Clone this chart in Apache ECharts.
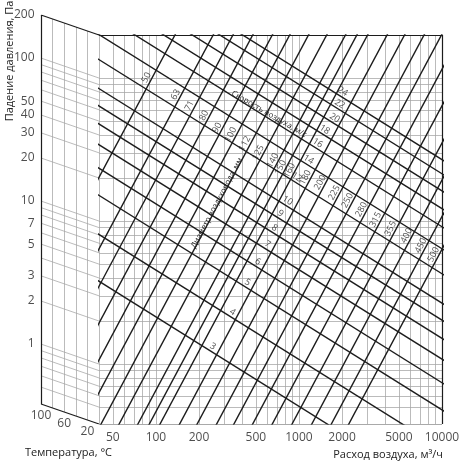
<!DOCTYPE html>
<html><head><meta charset="utf-8">
<script src="https://cdn.jsdelivr.net/npm/echarts@6/dist/echarts.min.js"></script>
<style>html,body{margin:0;padding:0;background:#fff}#c{width:465px;height:466px}</style>
</head><body><div id="c"></div>
<script>
// ---- data ----
const flowTicks = [50, 100, 200, 500, 1000, 2000, 5000, 10000];
const pressureTicks = [200, 100, 50, 40, 30, 20, 10, 7, 5, 3, 2, 1];
const temperatureTicks = [100, 60, 20];
const temperatureGrid = [80, 60, 40, 20];
const flowGrid = [40,50,60,70,80,90,100,200,300,400,500,600,700,800,900,1000,2000,3000,4000,5000,6000,7000,8000,9000];
const pressureGrid = [0.5,0.6,0.7,0.8,0.9,1,2,3,4,5,6,7,8,9,10,20,30,40,50,60,70,80,90,100];

// duct diameter lines (mm): flow (m3/h) where each line is at 0.3 Pa and at 250 Pa
const diameters = [50,63,71,80,90,100,112,125,140,150,160,180,200,225,250,280,315,355,400,450,500];
const diameterFlowAtLow = [4.23,7.83,10.8,14.8,20.3,26.9,36.4,48.7,65.9,79.2,94.1,129,171,234,309,418,573,788,1083,1483,1964];
const diameterFlowAtHigh = [153,283,389,535,733,970,1313,1760,2380,2860,3398,4651,6161,8434,11170,15110,20690,28460,39120,53560,70940];
const diameterLabelDrop = [96.9,73.7,61.7,52.6,43.3,38.7,33.5,29.0,25.5,22.8,21.7,19.4,17.9,15.2,13.4,11.6,9.85,8.52,7.61,6.48,5.61];

// air velocity lines (m/s): pressure drop (Pa) at 30 m3/h and at 12000 m3/h
const velocities = [3,4,5,6,7,8,9,10,12,14,16,18,20,22,24];
const velocityDropAtLow = [4.54,9.63,18.1,28.0,40.9,57.1,76.3,101,161,241,344,459,612,807,1016];
const velocityDropAtHigh = [0.107,0.228,0.427,0.661,0.967,1.35,1.81,2.38,3.82,5.71,8.14,10.9,14.5,19.1,24.0];
const velocityLabelFlow = [239,329,419,493,578,648,713,798,923,1119,1294,1448,1701,1844,1935];

// ---- chart ----
const FMIN = 40, FMAX = 10000, PMAX = 200, PMIN = 0.381;
const QLOW = 30, QHIGH = 12000, DLOW = 0.3, DHIGH = 250;
const SHIFT = 1.38;            // left (100 °C) scale vs right edge of temperature panel
const PMIN2 = PMIN / SHIFT;
const GRIDC = '#a4a4a4', INK = '#1c1c1c', TXT = '#222';
const FONT = '"Open Sans","DejaVu Sans",sans-serif';
const lg = Math.log10;
const seg = (a, b) => ({coords: [a, b]});
const series = [];
const linesBase = (xi, style, data, z) => ({type: 'lines', coordinateSystem: 'cartesian2d', xAxisIndex: xi, yAxisIndex: xi,
  silent: true, z: z || 1, lineStyle: Object.assign({opacity: 1}, style), data});

// main grid
series.push(linesBase(0, {color: GRIDC, width: 0.75},
  flowGrid.map(q => seg([q, PMIN], [q, PMAX])).concat(pressureGrid.map(p => seg([FMIN, p], [FMAX, p])))));
// main frame
series.push(linesBase(0, {color: INK, width: 1.2}, [seg([FMIN, PMAX], [FMAX, PMAX]), seg([FMAX, PMAX], [FMAX, PMIN])], 5));
series.push(linesBase(0, {color: '#555', width: 1}, [seg([FMIN, PMIN], [FMAX, PMIN])], 5));

// diameter lines
diameters.forEach((d, i) => series.push({type: 'line', xAxisIndex: 0, yAxisIndex: 0, silent: true, symbol: 'none', clip: true, z: 3,
  lineStyle: {color: INK, width: 1.4}, data: [[diameterFlowAtLow[i], DLOW], [diameterFlowAtHigh[i], DHIGH]]}));
// velocity lines
velocities.forEach((v, i) => series.push({type: 'line', xAxisIndex: 0, yAxisIndex: 0, silent: true, symbol: 'none', clip: true, z: 3,
  lineStyle: {color: INK, width: 1.4}, data: [[QLOW, velocityDropAtLow[i]], [QHIGH, velocityDropAtHigh[i]]]}));

const labelScatter = (xi, data, label) => ({type: 'scatter', xAxisIndex: xi, yAxisIndex: xi, silent: true, z: 6,
  symbolSize: 1, itemStyle: {color: 'rgba(0,0,0,0)'}, data,
  label: Object.assign({show: true, formatter: '{b}', color: TXT, fontFamily: FONT}, label)});

// diameter labels on their lines
series.push(labelScatter(0, diameters.map((d, i) => {
  const t = (lg(diameterLabelDrop[i]) - lg(DLOW)) / (lg(DHIGH) - lg(DLOW));
  const lq = lg(diameterFlowAtLow[i]) + t * (lg(diameterFlowAtHigh[i]) - lg(diameterFlowAtLow[i]));
  return {name: String(d), value: [Math.pow(10, lq), diameterLabelDrop[i]]};
}), {position: 'inside', rotate: 62, offset: [0, -5], fontSize: 9}));
// velocity labels
series.push(labelScatter(0, velocities.map((v, i) => {
  const t = (lg(velocityLabelFlow[i]) - lg(QLOW)) / (lg(QHIGH) - lg(QLOW));
  const lp = lg(velocityDropAtLow[i]) + t * (lg(velocityDropAtHigh[i]) - lg(velocityDropAtLow[i]));
  return {name: String(v), value: [velocityLabelFlow[i], Math.pow(10, lp)]};
}), {position: 'inside', rotate: -32, offset: [0, -5], fontSize: 9}));
// flow tick labels
series.push(labelScatter(0, flowTicks.map(q => ({name: String(q), value: [q, PMIN]})),
  {position: 'bottom', distance: 7, fontSize: 12}));

// temperature panel
const tf = T => Math.pow(SHIFT, (100 - T) / 100);
series.push(linesBase(1, {color: GRIDC, width: 0.75},
  pressureGrid.map(p => seg([100, p], [0, p / SHIFT])).concat(
  temperatureGrid.map(T => seg([T, PMAX / tf(T)], [T, PMIN / tf(T)])))));
series.push(linesBase(1, {color: INK, width: 1.2},
  [seg([100, PMAX], [0, PMAX / SHIFT]), seg([100, PMIN], [0, PMIN / SHIFT]), seg([100, PMAX], [100, PMIN])], 5));
series.push(labelScatter(1, pressureTicks.map(p => ({name: String(p), value: [100, p]})),
  {position: 'left', distance: 6, fontSize: 12}));
series.push(labelScatter(1, temperatureTicks.map(T => ({name: String(T), value: [T, PMIN / tf(T)]})),
  {position: 'bottom', distance: 5, fontSize: 12}));

const chart = echarts.init(document.getElementById('c'));
chart.setOption({
  animation: false,
  backgroundColor: '#fff',
  grid: [
    {left: 99, right: 23, top: 35, bottom: 42},
    {left: 41, width: 58, top: 15, bottom: 42}
  ],
  xAxis: [
    {gridIndex: 0, type: 'log', min: FMIN, max: FMAX, show: false},
    {gridIndex: 1, type: 'value', min: 0, max: 100, inverse: true, show: false}
  ],
  yAxis: [
    {gridIndex: 0, type: 'log', min: PMIN, max: PMAX, show: false},
    {gridIndex: 1, type: 'log', min: PMIN2, max: PMAX, show: false}
  ],
  graphic: [
    {type: 'text', x: 10, y: 61, rotation: Math.PI / 2, style: {text: 'Падение давления, Па', font: '11px ' + FONT, fill: TXT, align: 'center', verticalAlign: 'middle'}},
    {type: 'text', x: 25, y: 453, style: {text: 'Температура, °C', font: '11px ' + FONT, fill: TXT, align: 'left', verticalAlign: 'middle'}},
    {type: 'text', x: 443, y: 455, style: {text: 'Расход воздуха, м³/ч', font: '11px ' + FONT, fill: TXT, align: 'right', verticalAlign: 'middle'}},
    {type: 'text', x: 217, y: 203, rotation: 62 * Math.PI / 180, z: 10, style: {text: 'Диаметр воздуховода, мм', font: '8px ' + FONT, fill: TXT, align: 'center', verticalAlign: 'middle'}},
    {type: 'text', x: 269, y: 114, rotation: -30 * Math.PI / 180, z: 10, style: {text: 'Скорость воздуха, м/с', font: '8px ' + FONT, fill: TXT, align: 'center', verticalAlign: 'middle'}}
  ],
  series
});
</script></body></html>
